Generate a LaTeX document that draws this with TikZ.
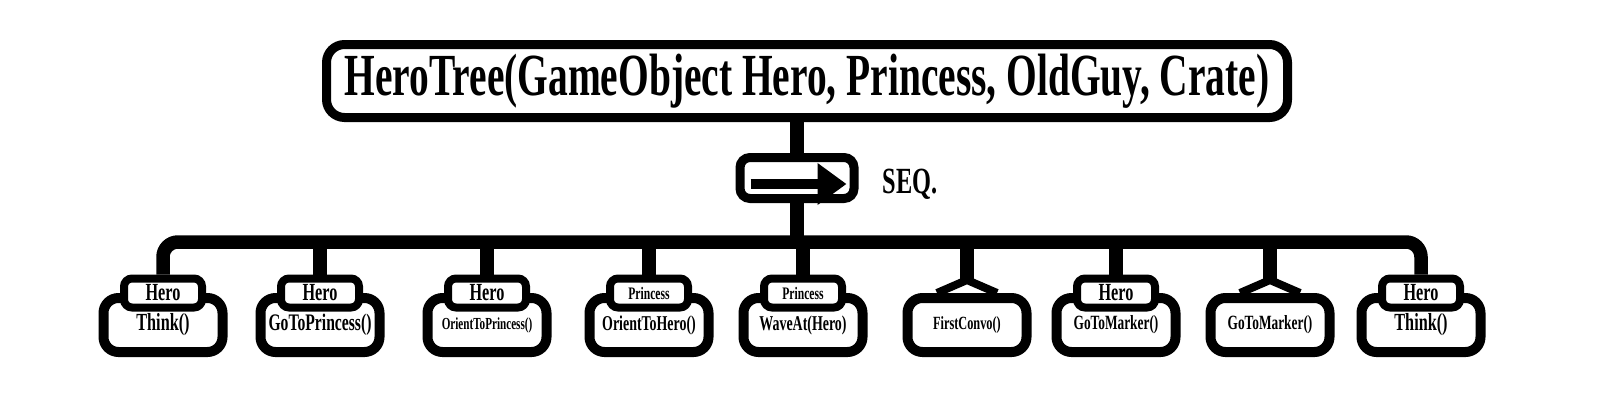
\documentclass[tikz,border=0pt]{standalone}
\usepackage{fontspec}
\usepackage{tikz}
\usetikzlibrary{arrows.meta,calc,positioning}
\newfontfamily\treefont[FakeStretch=0.66]{Liberation Serif}
\newcommand{\treesize}[1]{\fontsize{#1}{#1}\selectfont}

\begin{document}
\begin{tikzpicture}[
  conn/.style={draw=black,line width=0.27cm},
  forkline/.style={draw=black,line width=0.16cm},
  rootbox/.style={draw,line width=0.18cm,rounded corners=0.36cm,fill=white,minimum width=19.22cm,minimum height=1.46cm,inner sep=0pt,font={\treefont\bfseries\treesize{34pt}}},
  seqbox/.style={draw,line width=0.18cm,rounded corners=0.2cm,fill=white,minimum width=2.28cm,minimum height=0.82cm},
  seqarrow/.style={draw,line width=0.19cm,-{Triangle[length=0.58cm,width=0.8cm]}},
  func/.style={draw,line width=0.2cm,rounded corners=0.3cm,fill=white,minimum width=2.38cm,minimum height=1.08cm,inner sep=0pt,font=\treefont\bfseries},
  tag/.style={draw,line width=0.16cm,rounded corners=0.16cm,fill=white,minimum width=1.56cm,minimum height=0.58cm,inner sep=0pt,font=\treefont\bfseries}
]
\useasboundingbox (0,0) rectangle (32.02,-8.28);

\node[rootbox] (root) at (16.14,-1.62) {HeroTree(GameObject Hero, Princess, OldGuy, Crate)};
\node[seqbox] (seq) at (15.94,-3.56) {};
\node[right=0.48cm of seq,yshift=-0.12cm,inner sep=0pt,font={\treefont\bfseries\treesize{21pt}}] (seqlabel) {SEQ.};
\draw[seqarrow] ([xshift=0.3cm,yshift=-0.12cm]seq.west) -- ([xshift=-0.24cm,yshift=-0.12cm]seq.east);
\coordinate (bar) at (16,-4.84);

% leaves
\node[func] (think) at (3.26,-6.5) {\treesize{14pt}Think()};
\node[tag] (thinktag) at (think.north) {\treesize{14pt}Hero};
\node[func] (gotoprincess) at (6.40,-6.5) {\treesize{13.5pt}GoToPrincess()};
\node[tag] (gotoprincesstag) at (gotoprincess.north) {\treesize{14pt}Hero};
\node[func] (orientprincess) at (9.74,-6.5) {\treesize{9.6pt}OrientToPrincess()};
\node[tag] (orientprincesstag) at (orientprincess.north) {\treesize{14pt}Hero};
\node[func] (orienthero) at (12.98,-6.5) {\treesize{12pt}OrientToHero()};
\node[tag] (orientherotag) at (orienthero.north) {\treesize{10pt}Princess};
\node[func] (waveat) at (16.06,-6.5) {\treesize{12pt}WaveAt(Hero)};
\node[tag] (waveattag) at (waveat.north) {\treesize{10pt}Princess};
\node[func] (firstconvo) at (19.34,-6.5) {\treesize{10.6pt}FirstConvo()};
\coordinate (firstfork) at (19.34,-5.6);
\node[func] (gotomarker) at (22.32,-6.5) {\treesize{11.5pt}GoToMarker()};
\node[tag] (gotomarkertag) at (gotomarker.north) {\treesize{14pt}Hero};
\node[func] (gotomarkerb) at (25.40,-6.5) {\treesize{11.5pt}GoToMarker()};
\coordinate (markerfork) at (25.40,-5.6);
\node[func] (thinkb) at (28.42,-6.5) {\treesize{14pt}Think()};
\node[tag] (thinkbtag) at (thinkb.north) {\treesize{14pt}Hero};

% connectors
\draw[conn] (seq.north) -- (seq.north |- root.south);
\draw[conn] (seq.south) -- (seq.south |- bar);
\draw[conn,rounded corners=0.3cm] (thinktag.north) |- (bar) -| (thinkbtag.north);
\foreach \t in {gotoprincesstag,orientprincesstag,orientherotag,waveattag,gotomarkertag}
  \draw[conn] (\t.north) -- (\t.north |- bar);
\draw[conn] (firstfork) -- (firstfork |- bar);
\draw[forkline] ([xshift=-0.6cm]firstconvo.north) -- (firstfork) -- ([xshift=0.6cm]firstconvo.north);
\draw[conn] (markerfork) -- (markerfork |- bar);
\draw[forkline] ([xshift=-0.6cm]gotomarkerb.north) -- (markerfork) -- ([xshift=0.6cm]gotomarkerb.north);
\end{tikzpicture}
\end{document}
